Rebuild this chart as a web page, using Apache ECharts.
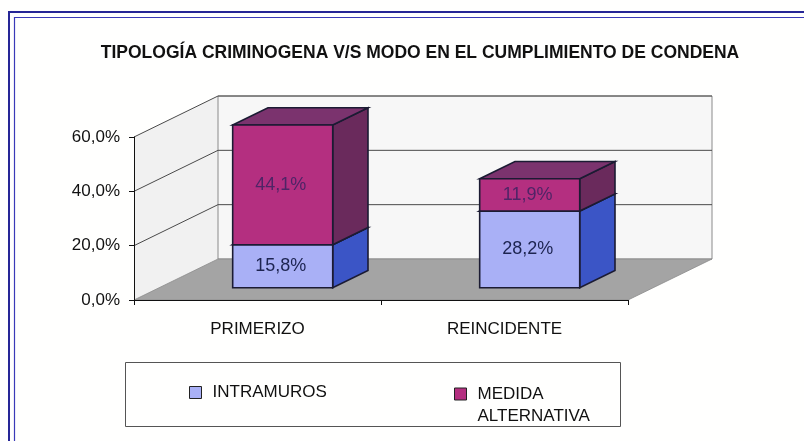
<!DOCTYPE html>
<html>
<head>
<meta charset="utf-8">
<script src="https://cdn.jsdelivr.net/npm/echarts@6/dist/echarts.min.js"></script>
<style>
html,body{margin:0;padding:0;background:#fffffe;}
#chart{width:804px;height:441px;}
</style>
</head>
<body>
<div id="chart"></div>
<script>
// ---- data ----
const categories = ['PRIMERIZO', 'REINCIDENTE'];
const intramuros = [15.8, 28.2];
const medida = [44.1, 11.9];
const yTicks = [0, 20, 40, 60];
const seriesNames = ['INTRAMUROS', 'MEDIDA ALTERNATIVA'];
const titleText = 'TIPOLOGÍA CRIMINOGENA V/S MODO EN EL CUMPLIMIENTO DE CONDENA';

// ---- style / projection ----
const FONT = "'Liberation Sans', Arial, sans-serif";
const DX = 84, DY = -41;          // depth offset of the 3D box
const D1 = 0.30, D2 = 0.72;       // bar depth (fraction of full depth)
const BAR_RATIO = 0.405;
const COLORS = {
  intramuros: { front: '#a9b0f6', side: '#3b55c6', top: '#8d96e8', text: '#1d2450' },
  medida: { front: '#b42f80', side: '#6a2a5c', top: '#7b336e', text: '#4f2466' }
};
const fmtPct = v => v.toFixed(1).replace('.', ',') + '%';

function renderWalls(params, api) {
  const cs = params.coordSys;
  const x0 = cs.x, x1 = cs.x + cs.width, yb = cs.y + cs.height, yt = cs.y;
  const children = [
    { type: 'polygon', shape: { points: [[x0, yb], [x0 + DX, yb + DY], [x0 + DX, yt + DY], [x0, yt]] },
      style: { fill: '#f1f1f1', stroke: null } },
    { type: 'polygon', shape: { points: [[x0 + DX, yb + DY], [x1 + DX, yb + DY], [x1 + DX, yt + DY], [x0 + DX, yt + DY]] },
      style: { fill: '#f7f7f7', stroke: '#8a8a8a', lineWidth: 1 } },
    { type: 'polygon', shape: { points: [[x0, yb], [x1, yb], [x1 + DX, yb + DY], [x0 + DX, yb + DY]] },
      style: { fill: '#a4a4a4', stroke: '#8a8a8a', lineWidth: 0.8 } }
  ];
  yTicks.forEach(v => {
    if (v === yTicks[0]) return;
    const py = api.coord([0, v])[1];
    children.push({ type: 'polyline', shape: { points: [[x0, py], [x0 + DX, py + DY], [x1 + DX, py + DY]] },
      style: { stroke: '#4a4a4a', lineWidth: 1, fill: null } });
  });
  return { type: 'group', children };
}

function makeBarRender(col) {
  return function (params, api) {
    const i = api.value(0), v = api.value(1), base = api.value(2);
    const pB = api.coord([i, base]);
    const pT = api.coord([i, base + v]);
    const band = api.size([1, 0])[0];
    const hw = band * BAR_RATIO / 2;
    const fx = pB[0] + D1 * DX;
    const bot = pB[1] + D1 * DY, top = pT[1] + D1 * DY;
    const bx = (D2 - D1) * DX, by = (D2 - D1) * DY;
    const edge = { stroke: '#1b1b33', lineWidth: 1.6 };
    return {
      type: 'group',
      children: [
        { type: 'polygon', shape: { points: [[fx + hw, top], [fx + hw + bx, top + by], [fx + hw + bx, bot + by], [fx + hw, bot]] },
          style: Object.assign({ fill: col.side }, edge) },
        { type: 'polygon', shape: { points: [[fx - hw, top], [fx - hw + bx, top + by], [fx + hw + bx, top + by], [fx + hw, top]] },
          style: Object.assign({ fill: col.top }, edge) },
        { type: 'rect', shape: { x: fx - hw, y: top, width: 2 * hw, height: bot - top },
          style: Object.assign({ fill: col.front }, edge) },
        { type: 'text', x: fx - 2, y: (top + bot) / 2,
          style: { text: fmtPct(v), fill: col.text, font: '18px ' + FONT, align: 'center', verticalAlign: 'middle' } }
      ]
    };
  };
}

const chart = echarts.init(document.getElementById('chart'), null, { renderer: 'canvas' });
chart.setOption({
  backgroundColor: '#fffffe',
  animation: false,
  title: {
    text: titleText, left: 415, top: 39, textAlign: 'center',
    textStyle: { fontFamily: FONT, fontWeight: 'bold', fontSize: 17.5, color: '#111' }
  },
  graphic: [
    { type: 'rect', shape: { x: 9, y: 12, width: 900, height: 500 }, style: { fill: null, stroke: '#262696', lineWidth: 2 }, z: 100 },
    { type: 'rect', shape: { x: 14.5, y: 17.5, width: 900, height: 500 }, style: { fill: null, stroke: '#3a3ab8', lineWidth: 1.2 }, z: 100 },
    { type: 'rect', shape: { x: 125.5, y: 362.5, width: 495, height: 64 }, style: { fill: null, stroke: '#555', lineWidth: 1 } }
  ],
  legend: [
    { data: [{ name: seriesNames[0], itemStyle: { color: COLORS.intramuros.front, borderColor: '#222', borderWidth: 1 } }],
      left: 189, top: 384, padding: 0, icon: 'rect', itemWidth: 12, itemHeight: 12,
      textStyle: { fontFamily: FONT, fontSize: 17, color: '#111', padding: [0, 0, 0, 6] } },
    { data: [{ name: seriesNames[1], itemStyle: { color: COLORS.medida.front, borderColor: '#222', borderWidth: 1 } }],
      left: 454, top: 361, padding: 0, icon: 'rect', itemWidth: 12, itemHeight: 12,
      formatter: n => '\n' + n.replace(' ', '\n'),
      textStyle: { fontFamily: FONT, fontSize: 17, color: '#111', lineHeight: 22, padding: [0, 0, 0, 6] } }
  ],
  grid: { left: 134, right: 176, top: 137, bottom: 141 },
  xAxis: {
    type: 'category', data: categories,
    axisLine: { lineStyle: { color: '#111', width: 1 } },
    axisTick: { show: true, length: 5, lineStyle: { color: '#111' } },
    axisLabel: { fontFamily: FONT, fontSize: 17, color: '#111', margin: 21 },
    z: 10
  },
  yAxis: {
    type: 'value', min: yTicks[0], max: yTicks[yTicks.length - 1], interval: yTicks[1] - yTicks[0],
    axisLine: { show: true, lineStyle: { color: '#111', width: 1 } },
    axisTick: { show: true, length: 5, lineStyle: { color: '#111' } },
    splitLine: { show: false },
    axisLabel: { fontFamily: FONT, fontSize: 17, color: '#111', margin: 14, formatter: fmtPct },
    z: 10
  },
  series: [
    { type: 'custom', name: '__walls', silent: true, renderItem: renderWalls, data: [[0, 0]], z: 1 },
    { type: 'custom', name: seriesNames[0], renderItem: makeBarRender(COLORS.intramuros), z: 2,
      itemStyle: { color: COLORS.intramuros.front },
      encode: { x: 0, y: 1 },
      data: categories.map((c, i) => [i, intramuros[i], 0]) },
    { type: 'custom', name: seriesNames[1], renderItem: makeBarRender(COLORS.medida), z: 3,
      itemStyle: { color: COLORS.medida.front },
      encode: { x: 0, y: 1 },
      data: categories.map((c, i) => [i, medida[i], intramuros[i]]) }
  ]
});
</script>
</body>
</html>
